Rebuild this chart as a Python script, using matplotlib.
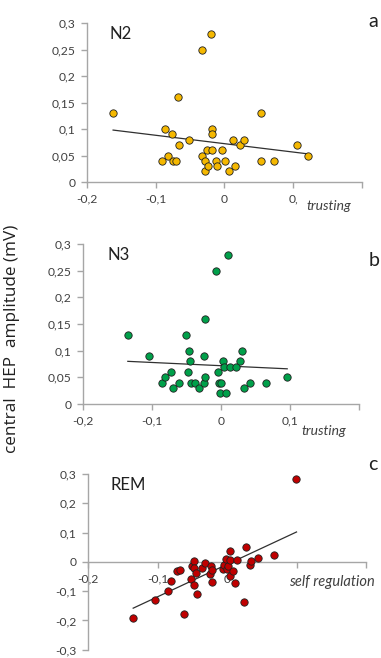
import matplotlib
matplotlib.use("Agg")
import matplotlib.pyplot as plt
from matplotlib.ticker import FixedLocator, FixedFormatter

plt.rcParams['font.family'] = ['Lato', 'DejaVu Sans']

# ---------------- data ----------------
n2_x = [-0.162, -0.086, -0.076, -0.066, -0.068, -0.082, -0.091, -0.075, -0.071, -0.051,
        -0.033, -0.020, -0.033, -0.029, -0.029, -0.024, -0.025, -0.018, -0.018, -0.018,
        -0.012, -0.011, -0.003, 0.001, 0.007, 0.012, 0.016, 0.023, 0.028, 0.053,
        0.053, 0.072, 0.106, 0.122]
n2_y = [0.13, 0.10, 0.09, 0.07, 0.16, 0.05, 0.04, 0.04, 0.04, 0.08,
        0.25, 0.28, 0.05, 0.04, 0.02, 0.03, 0.06, 0.06, 0.10, 0.09,
        0.04, 0.03, 0.06, 0.04, 0.02, 0.08, 0.03, 0.07, 0.08, 0.13,
        0.04, 0.04, 0.07, 0.05]
n2_trend_x = [-0.162, 0.122]
n2_trend_y = [0.098, 0.053]

n3_x = [-0.135, -0.104, -0.086, -0.081, -0.073, -0.069, -0.061, -0.050, -0.047, -0.045,
        -0.048, -0.044, -0.037, -0.032, -0.025, -0.023, -0.025, -0.023, -0.007, 0.010,
        -0.005, -0.003, 0.000, -0.001, 0.007, 0.003, 0.004, 0.013, 0.022, 0.027,
        0.031, 0.033, 0.042, 0.065, 0.096]
n3_y = [0.13, 0.09, 0.04, 0.05, 0.06, 0.03, 0.04, 0.13, 0.10, 0.08,
        0.06, 0.04, 0.04, 0.03, 0.04, 0.05, 0.09, 0.16, 0.25, 0.28,
        0.06, 0.04, 0.04, 0.02, 0.02, 0.08, 0.07, 0.07, 0.07, 0.08,
        0.10, 0.03, 0.04, 0.04, 0.05]
n3_trend_x = [-0.135, 0.096]
n3_trend_y = [0.080, 0.066]

rem_x = [-0.135, -0.104, -0.085, -0.080, -0.072, -0.067, -0.062, -0.052, -0.051, -0.048,
         -0.048, -0.047, -0.045, -0.043, -0.036, -0.032, -0.024, -0.023, -0.022, -0.022,
         -0.006, -0.004, -0.001, 0.000, 0.002, 0.004, 0.005, 0.005, 0.008, 0.011,
         0.015, 0.024, 0.028, 0.033, 0.035, 0.044, 0.068, 0.099]
rem_y = [-0.193, -0.130, -0.099, -0.066, -0.031, -0.028, -0.177, -0.058, -0.014, 0.002,
         -0.020, -0.078, -0.038, -0.111, -0.020, -0.004, -0.041, -0.014, -0.028, -0.068,
         -0.023, -0.010, 0.009, -0.024, -0.014, -0.047, 0.038, 0.008, -0.031, -0.071,
         0.008, -0.136, 0.051, -0.009, 0.002, 0.013, 0.024, 0.282]
rem_trend_x = [-0.135, 0.100]
rem_trend_y = [-0.158, 0.102]

x_ticks = [-0.2, -0.1, 0.0, 0.1, 0.2]
# visible x tick labels per panel (the rest are covered by the axis names)
x_labels_a = ['-0,2', '-0,1', '0', '0,', '']
x_labels_b = ['-0,2', '-0,1', '0', '0,1', '']
x_labels_c = ['-0,2', '-0,1', '0', '', '']
y_ticks_ab = [0, 0.05, 0.1, 0.15, 0.2, 0.25, 0.3]
y_labels_ab = ['0', '0,05', '0,1', '0,15', '0,2', '0,25', '0,3']
y_ticks_c = [-0.3, -0.2, -0.1, 0, 0.1, 0.2, 0.3]
y_labels_c = ['-0,3', '-0,2', '-0,1', '0', '0,1', '0,2', '0,3']

# ---------------- style ----------------
AX_COL = '#A6A6A6'
TXT_COL = '#404040'


def style(ax, xlabels, yticks, ylabels, ylim):
    ax.set_xlim(-0.2, 0.2)
    ax.set_ylim(*ylim)
    for s in ['top', 'right']:
        ax.spines[s].set_visible(False)
    for s in ['left', 'bottom']:
        ax.spines[s].set_color(AX_COL)
        ax.spines[s].set_linewidth(1.0)
    ax.xaxis.set_major_locator(FixedLocator(x_ticks))
    ax.xaxis.set_major_formatter(FixedFormatter(xlabels))
    ax.yaxis.set_major_locator(FixedLocator(yticks))
    ax.yaxis.set_major_formatter(FixedFormatter(ylabels))
    ax.tick_params(direction='out', length=4, width=1.0, color=AX_COL,
                   labelsize=8.7, labelcolor=TXT_COL, pad=4.5)
    ax.patch.set_alpha(0)


fig = plt.figure(figsize=(3.81, 6.58), dpi=100)

axa = fig.add_axes([0.2283, 0.7234, 0.7218, 0.2416])
axb = fig.add_axes([0.2178, 0.3860, 0.7244, 0.2432])
axc = fig.add_axes([0.2310, 0.0125, 0.7297, 0.2672])

style(axa, x_labels_a, y_ticks_ab, y_labels_ab, (0, 0.3))
style(axb, x_labels_b, y_ticks_ab, y_labels_ab, (0, 0.3))
style(axc, x_labels_c, y_ticks_c, y_labels_c, (-0.3, 0.3))
axc.spines['bottom'].set_position(('data', 0))

mk = dict(s=28, edgecolors='#202020', linewidths=0.6, zorder=3)
axa.scatter(n2_x, n2_y, c='#F5B800', **mk)
axb.scatter(n3_x, n3_y, c='#00A04A', **mk)
axc.scatter(rem_x, rem_y, c='#C00000', **mk)

ln = dict(color='#303030', lw=0.9, zorder=2)
axa.plot(n2_trend_x, n2_trend_y, **ln)
axb.plot(n3_trend_x, n3_trend_y, **ln)
axc.plot(rem_trend_x, rem_trend_y, **ln)

# panel titles
axa.text(-0.167, 0.294, 'N2', fontsize=12, color='#202020', va='top', ha='left')
axb.text(-0.165, 0.294, 'N3', fontsize=12, color='#202020', va='top', ha='left')
axc.text(-0.168, 0.288, 'REM', fontsize=12, color='#202020', va='top', ha='left')

# axis names
axa.text(0.119, -0.046, 'trusting', fontsize=10, style='italic', color=TXT_COL,
         va='center', ha='left', clip_on=False)
axb.text(0.117, -0.050, 'trusting', fontsize=10, style='italic', color=TXT_COL,
         va='center', ha='left', clip_on=False)
axc.text(0.089, -0.070, 'self regulation', fontsize=10.5, style='italic', color=TXT_COL,
         va='center', ha='left', clip_on=False, zorder=5)

# panel letters
fig.text(0.968, 0.968, 'a', fontsize=14, color='#202020', ha='left', va='center')
fig.text(0.968, 0.604, 'b', fontsize=14, color='#202020', ha='left', va='center')
fig.text(0.965, 0.294, 'c', fontsize=14, color='#202020', ha='left', va='center')

fig.text(0.032, 0.485, 'central  HEP  amplitude (mV)', rotation=90, fontsize=12.3,
         family=['Open Sans', 'DejaVu Sans'], color='#202020', ha='center', va='center')

fig.savefig('out.png', dpi=100, facecolor='white')
